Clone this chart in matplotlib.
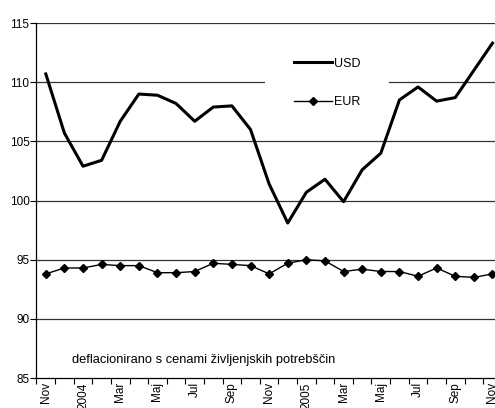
#!/usr/bin/env python3

import numpy as np
import matplotlib
matplotlib.use('Agg')
import matplotlib.pyplot as plt

plt.rcParams['font.family'] = ['Liberation Sans', 'DejaVu Sans']
plt.rcParams['font.size'] = 8

months = ['Nov', 'Dec', '2004', 'Feb', 'Mar', 'Apr', 'Maj', 'Jun', 'Jul', 'Avg', 'Sep', 'Okt',
          'Nov', 'Dec', '2005', 'Feb', 'Mar', 'Apr', 'Maj', 'Jun', 'Jul', 'Avg', 'Sep', 'Okt', 'Nov']
usd = [110.7, 105.7, 102.9, 103.4, 106.7, 109.0, 108.9, 108.2, 106.7, 107.9, 108.0, 106.0,
       101.4, 98.1, 100.7, 101.8, 99.9, 102.6, 104.0, 108.5, 109.6, 108.4, 108.7, 111.0, 113.3]
eur = [93.8, 94.3, 94.3, 94.6, 94.5, 94.5, 93.9, 93.9, 94.0, 94.7, 94.6, 94.5,
       93.8, 94.7, 95.0, 94.9, 94.0, 94.2, 94.0, 94.0, 93.6, 94.3, 93.6, 93.5, 93.8]

x = np.arange(len(months))

fig = plt.figure(figsize=(4.95, 4.08), dpi=100)
ax = fig.add_axes([0.0737, 0.0735, 0.940, 0.870])

for v in [90, 95, 100, 105, 110, 115]:
    ax.axhline(v, color='#333333', lw=0.9, zorder=1)

ax.plot(x, usd, color='black', lw=2.2, label='USD', zorder=3)
ax.plot(x, eur, color='black', lw=1.0, marker='D', ms=4, label='EUR', zorder=3)

ax.set_xlim(-0.5, len(months) - 0.5)
ax.set_ylim(85, 115)
ax.set_yticks(range(85, 116, 5))

# ticks between categories, labels on every other category
ax.set_xticks(np.arange(-0.5, len(months), 1))
ax.set_xticklabels([])
ax.tick_params(axis='x', which='major', direction='out', length=4, width=0.8)
ax.set_xticks(x[::2], minor=True)
ax.set_xticklabels(months[::2], minor=True, rotation=90, fontsize=8.5)
ax.tick_params(axis='x', which='minor', length=0, pad=3)
ax.tick_params(axis='y', direction='out', length=4, width=0.8, pad=1, labelsize=8.5)

for s in ['top', 'right']:
    ax.spines[s].set_visible(False)
ax.spines['left'].set_linewidth(0.9)
ax.spines['bottom'].set_linewidth(0.9)

leg = ax.legend(loc='upper left', bbox_to_anchor=(0.491, 0.983), frameon=True,
                borderaxespad=0, handlelength=3.1, handletextpad=0.1,
                labelspacing=2.1, borderpad=2.3, fontsize=9)
leg.get_frame().set_facecolor('white')
leg.get_frame().set_edgecolor('none')
leg.get_frame().set_alpha(1)
leg.set_zorder(2)

ax.text(1.41, 86.5, 'deflacionirano s cenami življenjskih potrebščin',
        fontsize=9.3, va='center')

plt.savefig('out.png', dpi=100)
